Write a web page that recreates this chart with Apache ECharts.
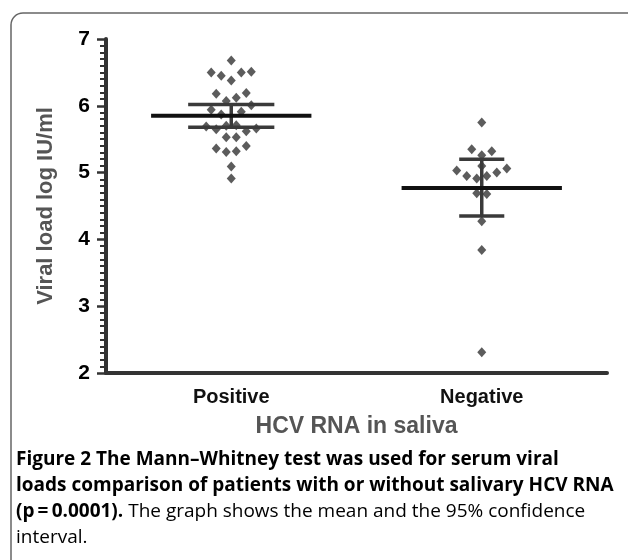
<!DOCTYPE html>
<html>
<head>
<meta charset="utf-8">
<script src="https://cdn.jsdelivr.net/npm/echarts@6/dist/echarts.min.js"></script>
<style>
  html, body { margin: 0; padding: 0; background: #fff; }
  #chart { width: 628px; height: 560px; }
</style>
</head>
<body>
<div id="chart"></div>
<script>
// 数据：值
var categories = ["Positive", "Negative"];

var positiveValues = [6.68, 6.50, 6.45, 6.38, 6.50, 6.51, 6.18, 6.12, 6.19, 6.07, 6.01, 5.94, 5.87, 5.91,
  5.69, 5.65, 5.70, 5.71, 5.62, 5.66, 5.53, 5.53, 5.36, 5.31, 5.32, 5.40, 5.09, 4.91];
// 点的横向排列槽位（Prism 式散点）
var positiveSlots = [0, -4, -2, 0, 2, 4, -3, 1, 3, -1, 4, -4, -2, 2,
  -5, -3, -1, 1, 3, 5, -1, 1, -3, -1, 1, 3, 0, 0];

var negativeValues = [5.75, 5.35, 5.32, 5.26, 5.10, 5.03, 4.95, 4.91, 4.95, 5.00, 5.06, 4.69, 4.68, 4.27, 3.84, 2.31];
var negativeSlots = [0, -2, 2, 0, 0, -5, -3, -1, 1, 3, 5, -1, 1, 0, 0, 0];

var means = [5.85, 4.77];
var ciLow = [5.68, 4.35];
var ciHigh = [6.02, 5.20];

var yTicks = [2, 3, 4, 5, 6, 7];

// 样式常量
var slotWidth = 0.02;
var meanHalf = 0.32;
var capHalf = [0.172, 0.09];

function scatterData(values, slots, pos) {
  return values.map(function (v, i) { return [pos + slots[i] * slotWidth, v]; });
}

var myChart = echarts.init(document.getElementById("chart"));

var option = {
  animation: false,
  backgroundColor: "#fff",
  grid: { left: 106, right: 21, top: 39, bottom: 187, containLabel: false },
  xAxis: [
    {
      type: "category",
      data: categories,
      boundaryGap: true,
      axisLine: { lineStyle: { color: "#333", width: 4 } },
      axisTick: { show: false },
      axisLabel: { fontFamily: "Liberation Sans", fontSize: 20, fontWeight: "bold", color: "#111", margin: 14 },
      name: "HCV RNA in saliva",
      nameLocation: "middle",
      nameGap: 42,
      nameTextStyle: { fontFamily: "Liberation Sans", fontSize: 23, fontWeight: "bold", color: "#555" },
    },
    { type: "value", min: 0.5, max: 2.5, show: false },
  ],
  yAxis: {
    type: "value",
    min: yTicks[0],
    max: yTicks[yTicks.length - 1],
    interval: 1,
    axisLine: { show: true, lineStyle: { color: "#333", width: 4 } },
    axisTick: { show: true, length: 9, lineStyle: { color: "#333", width: 2.5 } },
    minorTick: { show: true, splitNumber: 10, length: 6, lineStyle: { color: "#333", width: 2 } },
    splitLine: { show: false },
    axisLabel: { fontFamily: "Liberation Sans", fontSize: 21, fontWeight: "bold", color: "#000", margin: 16 },
    name: "Viral load log IU/ml",
    nameLocation: "middle",
    nameGap: 49,
    nameTextStyle: { fontFamily: "Liberation Sans", fontSize: 22, fontWeight: "bold", color: "#555" },
  },
  series: [
    {
      type: "scatter",
      xAxisIndex: 1,
      symbol: "diamond",
      symbolSize: [9, 10],
      itemStyle: { color: "#333" },
      data: scatterData(positiveValues, positiveSlots, 1),
    },
    {
      type: "scatter",
      xAxisIndex: 1,
      symbol: "diamond",
      symbolSize: [9, 10],
      itemStyle: { color: "#333" },
      data: scatterData(negativeValues, negativeSlots, 2),
    },
    {
      type: "custom",
      xAxisIndex: 1,
      z: 5,
      data: means.map(function (m, i) { return [i + 1, m, ciLow[i], ciHigh[i]]; }),
      renderItem: function (params, api) {
        var x = api.value(0), m = api.value(1), lo = api.value(2), hi = api.value(3);
        var c = capHalf[params.dataIndex];
        var ciStyle = { stroke: "#3a3a3a", lineWidth: 3.5 };
        var seg = function (a, b, style) {
          var p1 = api.coord(a), p2 = api.coord(b);
          return { type: "line", shape: { x1: p1[0], y1: p1[1], x2: p2[0], y2: p2[1] }, style: style };
        };
        return {
          type: "group",
          children: [
            seg([x, lo], [x, hi], ciStyle),
            seg([x - c, lo], [x + c, lo], ciStyle),
            seg([x - c, hi], [x + c, hi], ciStyle),
            seg([x - meanHalf, m], [x + meanHalf, m], { stroke: "#111", lineWidth: 4 }),
          ],
        };
      },
    },
  ],
  graphic: [
    {
      type: "rect",
      shape: { x: 11, y: 13, width: 660, height: 600, r: 12 },
      style: { fill: "none", stroke: "#666", lineWidth: 1.5 },
      silent: true,
    },
    {
      type: "text",
      left: 16,
      top: 450,
      style: {
        text: "{b|Figure 2 The Mann\u2013Whitney test was used for serum viral}\n" +
          "{b|loads comparison of patients with or without salivary HCV RNA}\n" +
          "{b|(p\u2009=\u20090.0001).}{n| The graph shows the mean and the 95% confidence}\n" +
          "{n|interval.}",
        rich: {
          b: { fontFamily: "Open Sans", fontSize: 19, fontWeight: "bold", color: "#333", lineHeight: 26 },
          n: { fontFamily: "Open Sans", fontSize: 19, color: "#555", lineHeight: 26 },
        },
      },
    },
  ],
};

myChart.setOption(option);
</script>
</body>
</html>
